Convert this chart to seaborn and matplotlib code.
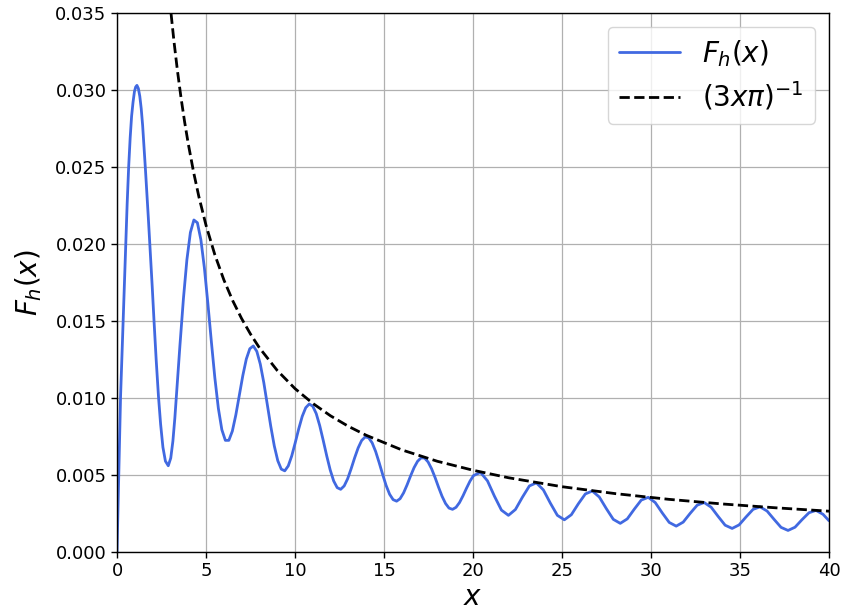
import numpy as np
import pandas as pd
import matplotlib
matplotlib.use("Agg")
import matplotlib.pyplot as plt
import seaborn as sns

# ---- values ----
fh_x = [0.0, 0.05, 0.10, 0.15, 0.20, 0.27, 0.34, 0.41, 0.49, 0.57, 0.655, 0.74,
        0.82, 0.90, 0.98, 1.05, 1.12, 1.20, 1.28, 1.36, 1.44, 1.52, 1.60, 1.68,
        1.76, 1.87, 1.98, 2.08, 2.20, 2.33, 2.45, 2.58, 2.72, 2.88, 3.02, 3.14,
        3.25,
        3.338, 3.534, 3.731, 3.927, 4.123, 4.320, 4.516, 4.712, 4.909, 5.105,
        5.301, 5.498, 5.694, 5.890, 6.087, 6.283, 6.480, 6.676, 6.872, 7.069,
        7.265, 7.461, 7.658, 7.854, 8.050, 8.247, 8.443, 8.639, 8.836, 9.032,
        9.228, 9.425, 9.621, 9.817, 10.014, 10.210, 10.407, 10.603, 10.799,
        10.996, 11.192, 11.388, 11.585, 11.781, 11.977, 12.174, 12.370, 12.566,
        12.763, 12.959, 13.155, 13.352, 13.548, 13.744, 13.941, 14.137, 14.334,
        14.530, 14.726, 14.923, 15.119, 15.315, 15.512, 15.708, 15.904, 16.101,
        16.297, 16.493, 16.690, 16.886, 17.082, 17.279, 17.475, 17.671, 17.868,
        18.064, 18.261, 18.457, 18.653, 18.850, 19.046, 19.242, 19.439, 19.635,
        19.831, 20.028,
        20.420, 20.813, 21.206, 21.598, 21.991, 22.384, 22.777, 23.169, 23.562,
        23.955, 24.347, 24.740, 25.133, 25.525, 25.918, 26.311, 26.704, 27.096,
        27.489, 27.882, 28.274, 28.667, 29.060, 29.452, 29.845, 30.238, 30.631,
        31.023, 31.416, 31.809, 32.201, 32.594, 32.987, 33.379, 33.772, 34.165,
        34.558, 34.950, 35.343, 35.736, 36.128, 36.521, 36.914, 37.306, 37.699,
        38.092, 38.485, 38.877, 39.270, 39.663, 40.0]
fh_y = [0.0, 0.0025, 0.0051, 0.0077, 0.0101, 0.0125, 0.0150, 0.0175, 0.0200,
        0.0226, 0.0250, 0.0269, 0.0283, 0.0292, 0.0299, 0.0302, 0.0303, 0.0301,
        0.0296, 0.0288, 0.0277, 0.0263, 0.0248, 0.0233, 0.0217, 0.0195, 0.0172,
        0.0150, 0.0125, 0.0101, 0.0083, 0.0068, 0.0059, 0.0056, 0.0061, 0.0072,
        0.0087,
        0.01015, 0.01339, 0.01644, 0.01898, 0.02075, 0.02156, 0.02138, 0.02028,
        0.01845, 0.01614, 0.01366, 0.01130, 0.00933, 0.00794, 0.00725, 0.00725,
        0.00785, 0.00890, 0.01018, 0.01146, 0.01253, 0.01320, 0.01338, 0.01303,
        0.01220, 0.01100, 0.00959, 0.00816, 0.00689, 0.00593, 0.00538, 0.00527,
        0.00559, 0.00624, 0.00710, 0.00800, 0.00881, 0.00937, 0.00961, 0.00947,
        0.00899, 0.00821, 0.00725, 0.00625, 0.00533, 0.00461, 0.00418, 0.00407,
        0.00429, 0.00476, 0.00541, 0.00612, 0.00676, 0.00724, 0.00747, 0.00742,
        0.00709, 0.00653, 0.00581, 0.00504, 0.00432, 0.00375, 0.00340, 0.00330,
        0.00346, 0.00384, 0.00436, 0.00494, 0.00548, 0.00589, 0.00611, 0.00610,
        0.00585, 0.00541, 0.00484, 0.00421, 0.00362, 0.00315, 0.00285, 0.00277,
        0.00290, 0.00321, 0.00365, 0.00414, 0.00460, 0.00496,
        0.00517, 0.00462, 0.00362, 0.00272, 0.00238, 0.00276, 0.00356, 0.00429,
        0.00449, 0.00403, 0.00317, 0.00238, 0.00209, 0.00242, 0.00313, 0.00377,
        0.00396, 0.00357, 0.00282, 0.00212, 0.00186, 0.00215, 0.00278, 0.00337,
        0.00355, 0.00321, 0.00254, 0.00192, 0.00168, 0.00194, 0.00251, 0.00304,
        0.00321, 0.00291, 0.00231, 0.00174, 0.00153, 0.00176, 0.00228, 0.00277,
        0.00293, 0.00266, 0.00212, 0.00160, 0.00140, 0.00161, 0.00210, 0.00255,
        0.00270, 0.00245, 0.00203]

# envelope (3 x pi)^-1, read at a few points
env_x = [2.9, 3.0, 3.2, 3.4, 3.6, 3.8, 4.0, 4.3, 4.6, 5.0, 5.5, 6.0, 6.5, 7.0,
         7.5, 8.0, 9.0, 10.0, 11.0, 12.0, 13.0, 14.0, 16.0, 18.0, 20.0, 22.0,
         25.0, 28.0, 31.0, 34.0, 37.0, 40.0]
env_y = [0.03659, 0.03537, 0.03316, 0.03121, 0.02947, 0.02792, 0.02653, 0.02468,
         0.02307, 0.02122, 0.01929, 0.01768, 0.01632, 0.01516, 0.01415, 0.01326,
         0.01179, 0.01061, 0.00965, 0.00884, 0.00816, 0.00758, 0.00663, 0.00589,
         0.00531, 0.00482, 0.00424, 0.00379, 0.00342, 0.00312, 0.00287, 0.00265]

x_ticks = [0, 5, 10, 15, 20, 25, 30, 35, 40]
y_ticks = [0.000, 0.005, 0.010, 0.015, 0.020, 0.025, 0.030, 0.035]

fh = pd.DataFrame({"x": fh_x, "F": fh_y})
env = pd.DataFrame({"x": env_x, "F": env_y})

# ---- style ----
sns.set_theme(style="ticks", rc={"axes.edgecolor": "black",
                                 "xtick.color": "black",
                                 "ytick.color": "black",
                                 "text.color": "black",
                                 "axes.labelcolor": "black"})
plt.rcParams["font.family"] = ["DejaVu Sans"]

fig, ax = plt.subplots(figsize=(8.46, 6.16), dpi=100)
fig.subplots_adjust(left=0.1383, right=0.9799, top=0.9789, bottom=0.1039)

sns.lineplot(data=fh, x="x", y="F", ax=ax, color="royalblue", linewidth=2.0,
             label="$F_h(x)$", sort=False)
sns.lineplot(data=env, x="x", y="F", ax=ax, color="black", linewidth=2.0,
             linestyle="--", label="$(3x\\pi)^{-1}$", sort=False)

ax.set_xlim(0, 40)
ax.set_ylim(0, 0.035)
ax.set_xticks(x_ticks)
ax.set_yticks(y_ticks)
ax.set_yticklabels([f"{t:.3f}" for t in y_ticks])
ax.grid(True, color="#b0b0b0", linewidth=0.9)
ax.set_axisbelow(True)

for s in ax.spines.values():
    s.set_linewidth(1.0)
    s.set_color("black")
ax.tick_params(axis="both", labelsize=13, length=4, width=1.0, direction="out",
               labelcolor="black")

ax.set_xlabel("$x$", fontsize=20, labelpad=2)
ax.set_ylabel("$F_h(x)$", fontsize=20, labelpad=8)

leg = ax.legend(loc="upper right", fontsize=20, frameon=True, fancybox=True,
                framealpha=0.8, edgecolor="#cccccc", handlelength=2.2,
                labelspacing=0.4)

fig.savefig("out.png", dpi=100)
